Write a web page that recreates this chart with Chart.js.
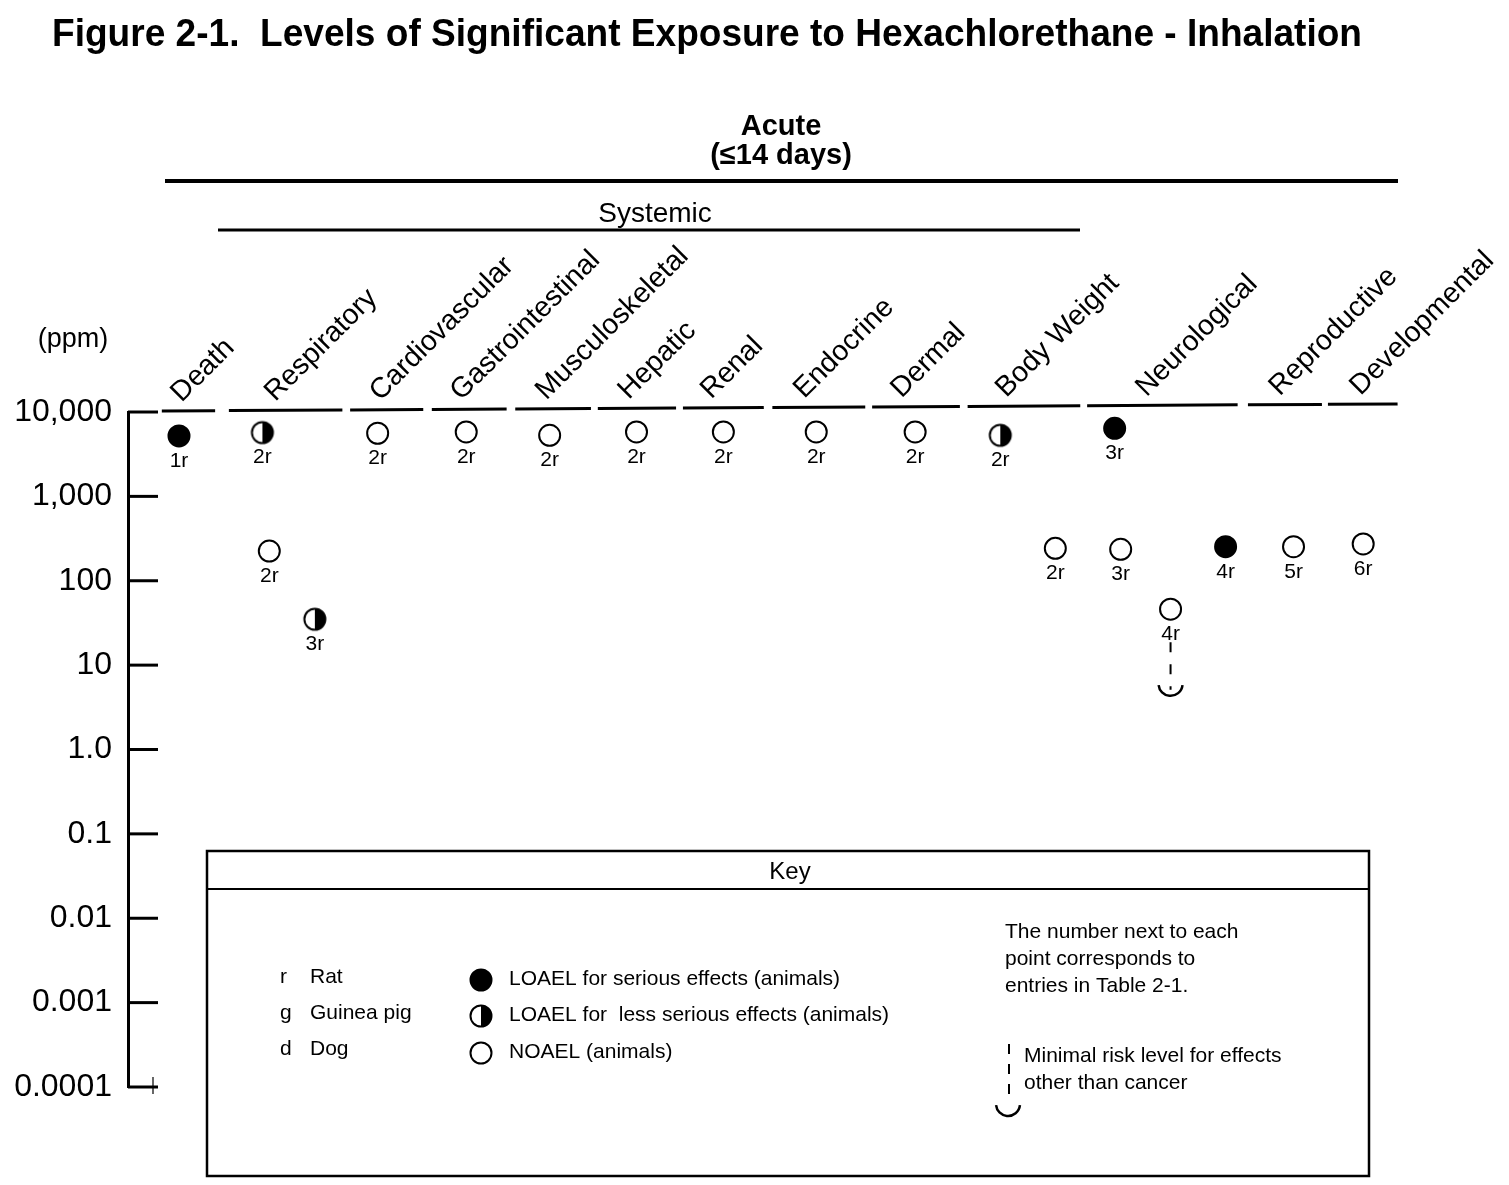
<!DOCTYPE html>
<html>
<head>
<meta charset="utf-8">
<script src="https://cdn.jsdelivr.net/npm/chart.js@4.4.1/dist/chart.umd.min.js"></script>
<style>
  html, body { margin: 0; padding: 0; background: #fff; }
  #wrap { position: relative; width: 1509px; height: 1185px; }
  canvas { display: block; }
</style>
</head>
<body>
<div id="wrap"><canvas id="chart" width="1509" height="1185"></canvas></div>
<script>
// ---------------- DATA ----------------
const titleText = 'Figure 2-1.  Levels of Significant Exposure to Hexachlorethane - Inhalation';
const durationLabel = ['Acute', '(\u226414 days)'];
const groupLabel = 'Systemic';
const unitLabel = '(ppm)';

const categories = ['Death', 'Respiratory', 'Cardiovascular', 'Gastrointestinal', 'Musculoskeletal',
  'Hepatic', 'Renal', 'Endocrine', 'Dermal', 'Body Weight', 'Neurological', 'Reproductive', 'Developmental'];

const tickValues = [10000, 1000, 100, 10, 1, 0.1, 0.01, 0.001, 0.0001];
const tickLabels = ['10,000', '1,000', '100', '10', '1.0', '0.1', '0.01', '0.001', '0.0001'];

// one entry per plotted point (x = column position along the category axis, Death = 0)
const pointCategory = ['Death', 'Respiratory', 'Respiratory', 'Respiratory', 'Cardiovascular',
  'Gastrointestinal', 'Musculoskeletal', 'Hepatic', 'Renal', 'Endocrine', 'Dermal',
  'Body Weight', 'Body Weight', 'Neurological', 'Neurological', 'Neurological', 'Neurological',
  'Reproductive', 'Developmental'];
const pointX = [0.00, 0.97, 1.05, 1.58, 2.31, 3.34, 4.31, 5.32, 6.33, 7.41, 8.56,
  9.55, 10.19, 10.88, 10.95, 11.53, 12.17, 12.96, 13.77];
const pointValue = [5200, 5700, 225, 35, 5600, 5800, 5300, 5800, 5800, 5800, 5800,
  5300, 242, 6400, 236, 46, 253, 253, 273];
const pointEffect = ['serious', 'less', 'noael', 'less', 'noael', 'noael', 'noael', 'noael', 'noael', 'noael', 'noael',
  'less', 'noael', 'serious', 'noael', 'noael', 'serious', 'noael', 'noael'];
const pointLabel = ['1r', '2r', '2r', '3r', '2r', '2r', '2r', '2r', '2r', '2r', '2r',
  '2r', '2r', '3r', '3r', '4r', '4r', '5r', '6r'];

// minimal risk level
const mrlX = 11.53;
const mrlValue = 6;

// key texts
const speciesKey = [['r', 'Rat'], ['g', 'Guinea pig'], ['d', 'Dog']];
const effectKey = [['serious', 'LOAEL for serious effects (animals)'],
  ['less', 'LOAEL for  less serious effects (animals)'],
  ['noael', 'NOAEL (animals)']];
const noteText = ['The number next to each', 'point corresponds to', 'entries in Table 2-1.'];
const mrlText = ['Minimal risk level for effects', 'other than cancer'];

// ---------------- LAYOUT (column units / pixels) ----------------
const X_MIN = -0.593, X_MAX = 14.198;
const categorySpan = [[-0.20, 0.42], [0.58, 1.90], [1.99, 2.84], [2.94, 3.81], [3.91, 4.79],
  [4.87, 5.78], [5.86, 6.80], [6.90, 7.98], [8.06, 9.08], [9.17, 10.48], [10.56, 12.31],
  [12.43, 13.29], [13.36, 14.17]];
const categoryAnchor = [0.03, 1.12, 2.34, 3.28, 4.27, 5.23, 6.19, 7.27, 8.40, 9.62, 11.25, 12.80, 13.74];

const FONT = '"Liberation Sans", Arial, Helvetica, sans-serif';

// ---------------- MARKERS ----------------
const R = 10.5, LW = 2;
function makeHalf(r, lw) {
  const s = 2 * Math.ceil(r + lw) + 2;
  const c = document.createElement('canvas');
  c.width = s; c.height = s;
  const g = c.getContext('2d');
  const cx = s / 2;
  g.beginPath(); g.arc(cx, cx, r, 0, Math.PI * 2); g.fillStyle = '#fff'; g.fill();
  g.beginPath(); g.moveTo(cx, cx - r); g.arc(cx, cx, r, -Math.PI / 2, Math.PI / 2); g.closePath();
  g.fillStyle = '#000'; g.fill();
  g.beginPath(); g.arc(cx, cx, r, 0, Math.PI * 2); g.lineWidth = lw; g.strokeStyle = '#000'; g.stroke();
  return c;
}
const halfImg = makeHalf(R, LW);

function pointsOf(effect) {
  const out = [];
  for (let i = 0; i < pointX.length; i++) {
    if (pointEffect[i] === effect) out.push({ x: pointX[i], y: pointValue[i], label: pointLabel[i] });
  }
  return out;
}

function drawMarker(ctx, effect, x, y) {
  if (effect === 'less') {
    ctx.drawImage(halfImg, x - halfImg.width / 2, y - halfImg.height / 2);
    return;
  }
  ctx.beginPath();
  ctx.arc(x, y, R, 0, Math.PI * 2);
  ctx.fillStyle = effect === 'serious' ? '#000' : '#fff';
  ctx.fill();
  ctx.lineWidth = LW; ctx.strokeStyle = '#000'; ctx.stroke();
}

// ---------------- DECORATION PLUGIN ----------------
const deco = {
  id: 'deco',
  beforeDraw(chart) {
    const ctx = chart.ctx;
    ctx.save(); ctx.fillStyle = '#fff'; ctx.fillRect(0, 0, chart.width, chart.height); ctx.restore();
  },
  afterDraw(chart) {
    const ctx = chart.ctx;
    const xs = chart.scales.x, ys = chart.scales.y;
    const area = chart.chartArea;
    ctx.save();
    ctx.fillStyle = '#000'; ctx.strokeStyle = '#000';

    // title (condensed bold)
    ctx.font = 'bold 39px ' + FONT;
    ctx.textAlign = 'left'; ctx.textBaseline = 'alphabetic';
    const tw = ctx.measureText(titleText).width;
    ctx.save(); ctx.translate(52, 46); ctx.scale(1310 / tw, 1); ctx.fillText(titleText, 0, 0); ctx.restore();

    // duration header
    ctx.font = 'bold 29px ' + FONT; ctx.textAlign = 'center';
    ctx.fillText(durationLabel[0], 781, 135);
    ctx.fillText(durationLabel[1], 781, 164);
    ctx.lineWidth = 4;
    ctx.beginPath(); ctx.moveTo(165, 181); ctx.lineTo(1398, 181); ctx.stroke();

    // systemic header
    ctx.font = '28px ' + FONT;
    ctx.fillText(groupLabel, 655, 222);
    ctx.lineWidth = 3;
    ctx.beginPath(); ctx.moveTo(218, 230); ctx.lineTo(1080, 230); ctx.stroke();

    // unit
    ctx.font = '27px ' + FONT;
    ctx.fillText(unitLabel, 73, 347);

    // category segments and rotated labels
    const segY = px => area.top - 1 - (px - 162) * 0.0057;
    ctx.lineWidth = 3;
    categories.forEach((name, i) => {
      const a = xs.getPixelForValue(categorySpan[i][0]);
      const b = xs.getPixelForValue(categorySpan[i][1]);
      ctx.beginPath(); ctx.moveTo(a, segY(a)); ctx.lineTo(b, segY(b)); ctx.stroke();
      const ax = xs.getPixelForValue(categoryAnchor[i]);
      ctx.save();
      ctx.translate(ax, segY(ax) - 8);
      ctx.rotate(-Math.PI / 4);
      ctx.font = '28.5px ' + FONT; ctx.textAlign = 'left'; ctx.textBaseline = 'alphabetic';
      ctx.fillText(name, 0, 0);
      ctx.restore();
    });

    // inner tick marks on the y axis
    ctx.lineWidth = 3;
    tickValues.forEach(v => {
      const y = ys.getPixelForValue(v);
      ctx.beginPath(); ctx.moveTo(area.left, y); ctx.lineTo(area.left + 30, y); ctx.stroke();
    });
    // small mark at the origin
    const y0 = ys.getPixelForValue(tickValues[tickValues.length - 1]);
    ctx.lineWidth = 1.2;
    ctx.beginPath(); ctx.moveTo(area.left + 25, y0 - 10); ctx.lineTo(area.left + 25, y0 + 7); ctx.stroke();

    // point labels
    ctx.font = '21px ' + FONT; ctx.textAlign = 'center'; ctx.textBaseline = 'middle';
    chart.data.datasets.forEach((ds, di) => {
      const meta = chart.getDatasetMeta(di);
      meta.data.forEach((el, j) => {
        ctx.fillText(ds.data[j].label, el.x, el.y + 25);
      });
    });

    // minimal risk level
    const mx = xs.getPixelForValue(mrlX);
    const my = ys.getPixelForValue(mrlValue);
    ctx.lineWidth = 2;
    ctx.setLineDash([10, 12]);
    ctx.beginPath(); ctx.moveTo(mx, ys.getPixelForValue(46) + 33); ctx.lineTo(mx, my + 6); ctx.stroke();
    ctx.setLineDash([]);
    ctx.lineWidth = 2.5;
    ctx.beginPath(); ctx.arc(mx, my, 12, 0.1, Math.PI - 0.1); ctx.stroke();

    // key box
    ctx.lineWidth = 2.5;
    ctx.strokeRect(207, 851, 1162, 325);
    ctx.lineWidth = 2;
    ctx.beginPath(); ctx.moveTo(207, 889); ctx.lineTo(1369, 889); ctx.stroke();
    ctx.font = '24px ' + FONT; ctx.textAlign = 'center'; ctx.textBaseline = 'middle';
    ctx.fillText('Key', 790, 872);

    ctx.font = '21px ' + FONT; ctx.textAlign = 'left'; ctx.textBaseline = 'middle';
    const rowY = [977, 1013, 1049];
    speciesKey.forEach((s, i) => {
      ctx.fillText(s[0], 280, rowY[i]);
      ctx.fillText(s[1], 310, rowY[i]);
    });
    const effY = [980, 1016, 1053];
    effectKey.forEach((e, i) => {
      drawMarker(ctx, e[0], 481, effY[i]);
      ctx.fillStyle = '#000';
      ctx.fillText(e[1], 509, effY[i] - 1);
    });
    const noteY = [932, 959, 986];
    noteText.forEach((t, i) => ctx.fillText(t, 1005, noteY[i]));
    const mrlY = [1056, 1083];
    mrlText.forEach((t, i) => ctx.fillText(t, 1024, mrlY[i]));
    ctx.lineWidth = 2;
    ctx.setLineDash([10, 10]);
    ctx.beginPath(); ctx.moveTo(1009, 1044); ctx.lineTo(1009, 1100); ctx.stroke();
    ctx.setLineDash([]);
    ctx.lineWidth = 2.5;
    ctx.beginPath(); ctx.arc(1008, 1104, 12, 0.1, Math.PI - 0.1); ctx.stroke();

    ctx.restore();
  }
};

// ---------------- CHART ----------------
const ctx = document.getElementById('chart').getContext('2d');
new Chart(ctx, {
  type: 'scatter',
  data: {
    datasets: [
      { label: 'LOAEL for serious effects (animals)', data: pointsOf('serious'),
        pointStyle: 'circle', pointRadius: R, pointBackgroundColor: '#000', pointBorderColor: '#000', pointBorderWidth: LW },
      { label: 'LOAEL for less serious effects (animals)', data: pointsOf('less'),
        pointStyle: halfImg, pointRadius: R, pointBackgroundColor: '#000', pointBorderColor: '#000', pointBorderWidth: LW },
      { label: 'NOAEL (animals)', data: pointsOf('noael'),
        pointStyle: 'circle', pointRadius: R, pointBackgroundColor: '#fff', pointBorderColor: '#000', pointBorderWidth: LW }
    ]
  },
  options: {
    responsive: false,
    animation: false,
    devicePixelRatio: 1,
    layout: { padding: { left: 0, right: 109, top: 412, bottom: 98 } },
    plugins: { legend: { display: false }, tooltip: { enabled: false }, title: { display: false } },
    scales: {
      x: { type: 'linear', min: X_MIN, max: X_MAX, display: false },
      y: {
        type: 'logarithmic', min: 0.0001, max: 10000,
        afterFit(scale) { scale.width = 128; },
        afterBuildTicks(scale) { scale.ticks = tickValues.slice().reverse().map(v => ({ value: v })); },
        ticks: {
          autoSkip: false,
          padding: 16,
          color: '#000',
          font: { family: FONT, size: 32 },
          callback(value) {
            const i = tickValues.findIndex(v => Math.abs(Math.log10(v) - Math.log10(value)) < 1e-6);
            return i >= 0 ? tickLabels[i] : '';
          }
        },
        grid: { display: false, drawTicks: false },
        border: { display: true, color: '#000', width: 3 }
      }
    }
  },
  plugins: [deco]
});
</script>
</body>
</html>
